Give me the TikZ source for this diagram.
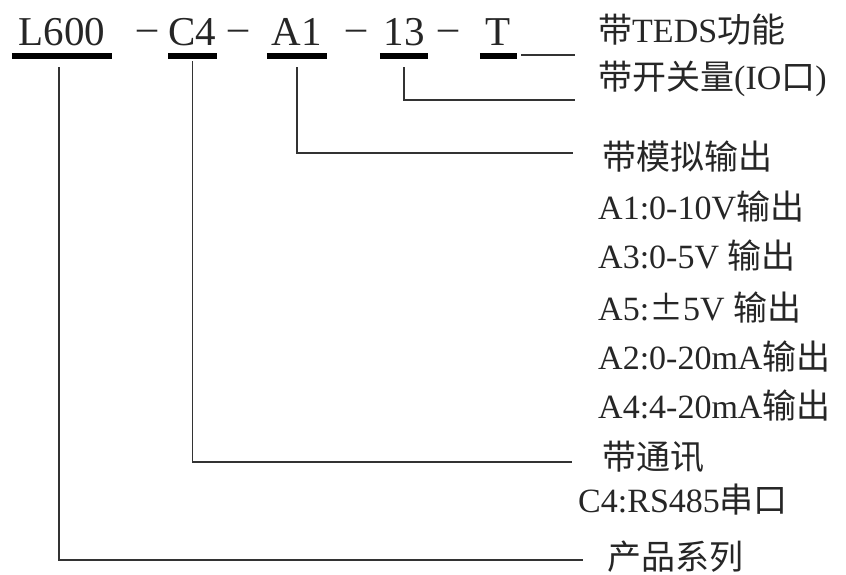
\documentclass[tikz,border=0pt]{standalone}
\usepackage{fontspec}
\setmainfont{Liberation Serif}
\newfontfamily\cjk{Noto Sans CJK SC}
\newcommand{\zh}[1]{{\cjk #1}}
\tikzset{
	lead/.style={line width=1.2pt, color=black!80},
	codebar/.style={line width=6pt, color=black},
	code/.style={inner sep=0pt, anchor=base, text=black!85, font=\fontsize{41}{48}\selectfont},
	sep/.style={inner sep=0pt, anchor=base, text=black!85, font=\fontsize{40}{48}\selectfont},
	lbl/.style={inner sep=0pt, anchor=west, text=black!85, font=\fontsize{34}{40}\selectfont}
}

\begin{document}
\begin{tikzpicture}[x=1pt, y=-1pt]
			%%%%% START %%%%%
			\useasboundingbox (0, 0) rectangle (846, 574);
			
			% model code
			\node[code, minimum width=100pt] (l600) at (62, 45) {L600};
			\node[sep] (d1) at (147, 40) {--};
			\node[code, minimum width=47pt] (c4) at (192.5, 45) {C4};
			\node[sep] (d2) at (238, 40) {--};
			\node[code, minimum width=60pt] (a1code) at (297, 45) {A1};
			\node[sep] (d3) at (356, 40) {--};
			\node[code, minimum width=48pt] (io13) at (404, 45) {13};
			\node[sep] (d4) at (448, 40) {--};
			\node[code, minimum width=37pt] (tcode) at (498.5, 45) {T};
			
			\foreach \c in {l600, c4, a1code, io13, tcode}
				\draw[codebar] ([yshift=-11pt]\c.base west) -- ([yshift=-11pt]\c.base east);
			
			% labels
			\node[lbl] (teds) at (598, 30) {\zh{带}TEDS\zh{功能}};
			\node[lbl] (io) at (598, 79) {\zh{带开关量}(IO\zh{口})};
			\node[lbl] (analog) at (602, 157) {\zh{带模拟输出}};
			\node[lbl] (a1) at (598, 207) {A1:0-10V\zh{输出}};
			\node[lbl] (a3) at (598, 256) {A3:0-5V \zh{输出}};
			\node[lbl] (a5) at (598, 308) {A5:\zh{±}5V \zh{输出}};
			\node[lbl] (a2) at (598, 357) {A2:0-20mA\zh{输出}};
			\node[lbl] (a4) at (598, 406) {A4:4-20mA\zh{输出}};
			\node[lbl] (comm) at (602, 457) {\zh{带通讯}};
			\node[lbl] (rs) at (578, 500) {C4:RS485\zh{串口}};
			\node[lbl] (serie) at (607, 557) {\zh{产品系列}};
			
			% leader lines
			\coordinate (endT) at (575, 55);
			\coordinate (end13) at (575, 100);
			\coordinate (endA) at (573, 153);
			\coordinate (endC) at (572, 462);
			\coordinate (endL) at (583, 560);
			
			\draw[lead] ([xshift=4pt, yshift=-10pt]tcode.base east) -- (endT);
			\draw[lead] ([yshift=-22pt]io13.base) |- (end13);
			\draw[lead] ([yshift=-22pt]a1code.base) |- (endA);
			\draw[lead] ([yshift=-16pt]c4.base) |- (endC);
			\draw[lead] ([yshift=-22pt, xshift=-3pt]l600.base) |- (endL);
			
			%%%%% END %%%%%
\end{tikzpicture}
\end{document}
